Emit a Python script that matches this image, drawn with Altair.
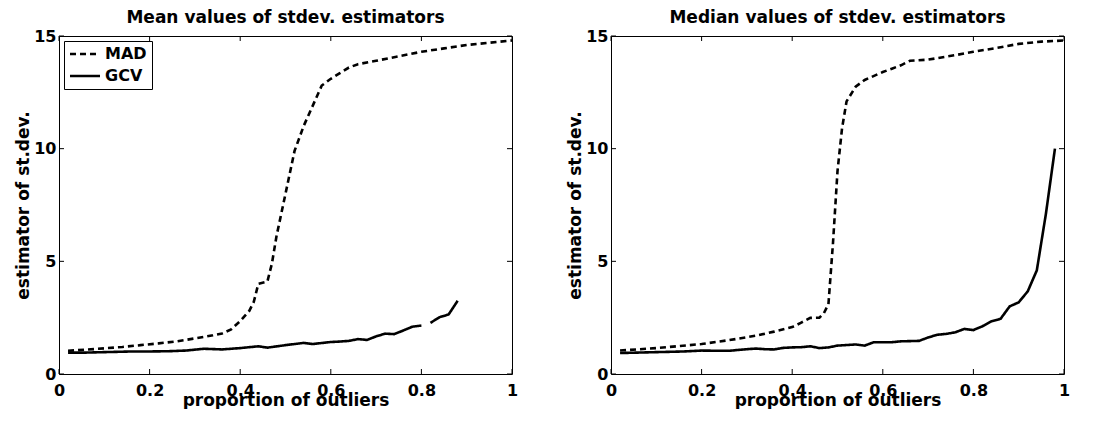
import altair as alt
import pandas as pd

# ---------------- data ----------------
series_names = ["MAD", "GCV"]
panel_titles = ["Mean values of stdev. estimators", "Median values of stdev. estimators"]

mean_mad_x = [0.02, 0.06, 0.10, 0.14, 0.18, 0.22, 0.26, 0.30, 0.34, 0.36, 0.38, 0.40,
              0.42, 0.43, 0.44, 0.46, 0.47, 0.48, 0.50, 0.52, 0.54, 0.56, 0.58, 0.60,
              0.62, 0.64, 0.66, 0.70, 0.75, 0.80, 0.85, 0.90, 0.95, 1.00]
mean_mad_y = [1.03, 1.08, 1.14, 1.20, 1.28, 1.36, 1.45, 1.58, 1.72, 1.80, 1.98, 2.35,
              2.80, 3.20, 4.00, 4.10, 4.90, 6.10, 8.00, 9.90, 11.0, 11.9, 12.8, 13.1,
              13.35, 13.6, 13.75, 13.9, 14.1, 14.3, 14.45, 14.6, 14.7, 14.8]

mean_gcv_x = [0.02, 0.06, 0.10, 0.16, 0.20, 0.24, 0.28, 0.32, 0.36, 0.40, 0.44, 0.46,
              0.50, 0.54, 0.56, 0.60, 0.62, 0.64, 0.66, 0.68, 0.70, 0.72, 0.74, 0.76,
              0.78, 0.80, 0.81, 0.82, 0.84, 0.86, 0.88]
mean_gcv_y = [0.95, 0.95, 0.97, 1.00, 1.00, 1.01, 1.04, 1.12, 1.09, 1.15, 1.23, 1.17,
              1.28, 1.38, 1.33, 1.42, 1.44, 1.47, 1.55, 1.51, 1.67, 1.79, 1.77, 1.93,
              2.10, 2.15, None, 2.27, 2.52, 2.64, 3.25]

median_mad_x = [0.02, 0.10, 0.20, 0.26, 0.32, 0.36, 0.40, 0.42, 0.44, 0.46, 0.47, 0.48,
                0.49, 0.50, 0.51, 0.52, 0.54, 0.56, 0.60, 0.62, 0.64, 0.66, 0.70, 0.76,
                0.80, 0.86, 0.90, 0.95, 1.00]
median_mad_y = [1.04, 1.15, 1.33, 1.50, 1.70, 1.88, 2.08, 2.28, 2.49, 2.50, 2.70, 3.10,
                5.80, 9.00, 10.9, 12.1, 12.75, 13.05, 13.4, 13.55, 13.7, 13.9, 13.95, 14.15,
                14.3, 14.5, 14.65, 14.75, 14.8]

median_gcv_x = [0.02, 0.06, 0.10, 0.16, 0.20, 0.24, 0.26, 0.30, 0.32, 0.34, 0.36, 0.38,
                0.40, 0.42, 0.44, 0.46, 0.48, 0.50, 0.54, 0.56, 0.58, 0.62, 0.64, 0.68,
                0.70, 0.72, 0.74, 0.76, 0.78, 0.80, 0.82, 0.84, 0.86, 0.88, 0.90, 0.92,
                0.94, 0.96, 0.98]
median_gcv_y = [0.93, 0.95, 0.97, 1.00, 1.04, 1.03, 1.03, 1.10, 1.13, 1.10, 1.09, 1.16,
                1.18, 1.19, 1.23, 1.15, 1.18, 1.26, 1.31, 1.26, 1.41, 1.41, 1.45, 1.47,
                1.62, 1.74, 1.78, 1.85, 2.00, 1.95, 2.12, 2.34, 2.45, 3.00, 3.18, 3.67,
                4.60, 7.10, 10.0]

x_ticks = [0, 0.2, 0.4, 0.6, 0.8, 1]
y_ticks = [0, 5, 10, 15]

# ---------------- styling ----------------
FONT = "DejaVu Sans"
W, H = 453, 338
TICK = 5


def x_enc():
    return alt.X("x:Q", scale=alt.Scale(domain=[0, 1], nice=False),
                 axis=alt.Axis(values=x_ticks, format="~g", title="proportion of outliers"))


def y_enc():
    return alt.Y("y:Q", scale=alt.Scale(domain=[0, 15], nice=False),
                 axis=alt.Axis(values=y_ticks, title="estimator of st.dev."))


def panel(title, mad_x, mad_y, gcv_x, gcv_y):
    df = pd.DataFrame({
        "x": mad_x + gcv_x,
        "y": mad_y + gcv_y,
        "series": ["MAD"] * len(mad_x) + ["GCV"] * len(gcv_x),
    })
    lines = alt.Chart(df).mark_line(
        color="black", strokeWidth=2.6, invalid="break-paths-show-domains"
    ).encode(
        x=x_enc(),
        y=y_enc(),
        strokeDash=alt.StrokeDash(
            "series:N",
            scale=alt.Scale(domain=series_names, range=[[6, 4], [1, 0]]),
            legend=alt.Legend(
                title=None, orient="top-left", offset=5, padding=5,
                strokeColor="black", fillColor="white",
                symbolType="M-2.5,0H2.5", symbolSize=144, symbolStrokeWidth=2.6,
                symbolStrokeColor="black", symbolOffset=8,
                labelFont=FONT, labelFontSize=16, labelFontWeight="bold",
                labelColor="black", labelOffset=12, rowPadding=6,
            ),
        ),
        detail="series:N",
    )
    xt = pd.DataFrame({"x": x_ticks})
    yt = pd.DataFrame({"y": y_ticks})
    rule = dict(color="black", strokeWidth=1)
    t_bottom = alt.Chart(xt).mark_rule(**rule).encode(
        x=x_enc(), y=alt.value(H), y2=alt.value(H - TICK))
    t_top = alt.Chart(xt).mark_rule(**rule).encode(
        x=x_enc(), y=alt.value(0), y2=alt.value(TICK))
    t_left = alt.Chart(yt).mark_rule(**rule).encode(
        y=y_enc(), x=alt.value(0), x2=alt.value(TICK))
    t_right = alt.Chart(yt).mark_rule(**rule).encode(
        y=y_enc(), x=alt.value(W), x2=alt.value(W - TICK))
    return alt.layer(lines, t_bottom, t_top, t_left, t_right).properties(
        width=W, height=H,
        title=alt.TitleParams(title, baseline="bottom", offset=-16),
    )


left = panel(panel_titles[0], mean_mad_x, mean_mad_y, mean_gcv_x, mean_gcv_y)
right = panel(panel_titles[1], median_mad_x, median_mad_y, median_gcv_x, median_gcv_y)

chart = alt.hconcat(left, right, spacing=46).properties(
    padding={"left": 5, "top": 0, "right": 5, "bottom": 0}
).configure_view(
    stroke="black", strokeWidth=1
).configure_axis(
    labelFont=FONT, labelFontSize=16, labelFontWeight="bold", labelColor="black",
    titleFont=FONT, titleFontSize=17, titleFontWeight="bold", titleColor="black",
    grid=False, ticks=False, tickSize=0, domain=False, labelFlush=False,
    labelOverlap=False,
).configure_axisX(
    labelPadding=8, titleY=31, titleBaseline="alphabetic",
).configure_axisY(
    labelPadding=3, titleX=-31, titleBaseline="alphabetic",
).configure_title(
    font=FONT, fontSize=17, fontWeight="bold", color="black", anchor="middle",
)

chart.save("out.html", embed_options={"renderer": "svg", "actions": False})
